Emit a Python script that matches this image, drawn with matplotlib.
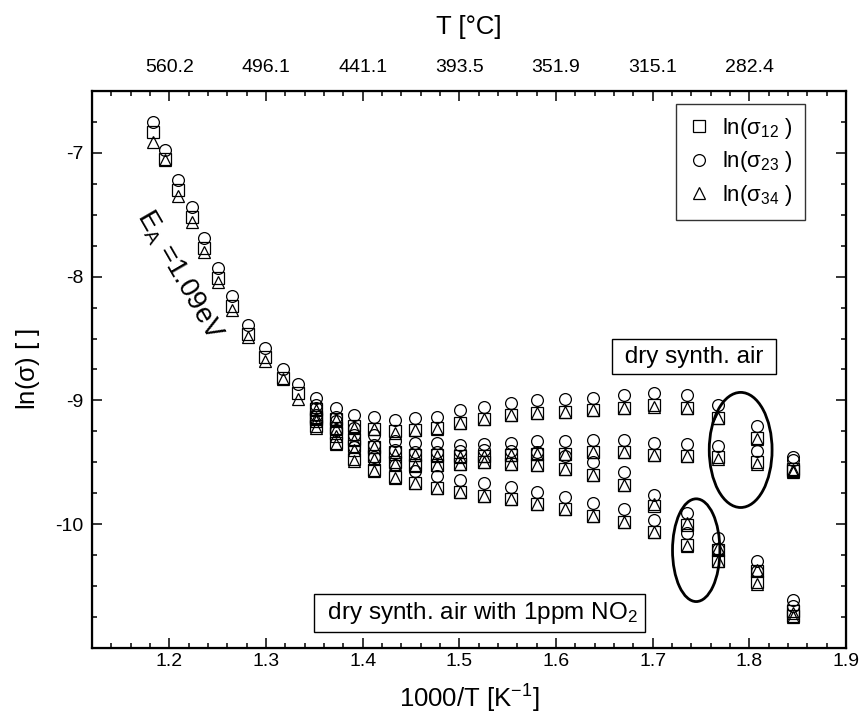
import matplotlib
matplotlib.use('Agg')
import matplotlib.pyplot as plt
from matplotlib.patches import Ellipse
from matplotlib.ticker import MultipleLocator

plt.rcParams['font.family'] = ['Liberation Sans', 'DejaVu Sans']
plt.rcParams['mathtext.fontset'] = 'custom'
plt.rcParams['mathtext.rm'] = 'Liberation Sans'
plt.rcParams['mathtext.it'] = 'Liberation Sans:italic'
plt.rcParams['mathtext.sf'] = 'Liberation Sans'
plt.rcParams['axes.unicode_minus'] = False

# steep part (all three contacts together)
x_steep = [1.183, 1.196, 1.209, 1.223, 1.236, 1.250, 1.265, 1.281, 1.299, 1.318, 1.333]
ci_steep = [-6.75, -6.98, -7.22, -7.44, -7.69, -7.93, -8.16, -8.39, -8.58, -8.75, -8.87]
sq_steep = [-6.83, -7.05, -7.30, -7.52, -7.77, -8.01, -8.24, -8.46, -8.65, -8.82, -8.94]
tr_steep = [-6.91, -7.06, -7.35, -7.56, -7.80, -8.04, -8.27, -8.49, -8.68, -8.83, -8.99]

# low temperature part, four branches
x_band = [1.352, 1.372, 1.391, 1.412, 1.433, 1.454, 1.477, 1.501, 1.526, 1.553,
          1.580, 1.609, 1.638, 1.670, 1.701, 1.735, 1.768, 1.808, 1.845]

ci_A = [-8.98, -9.06, -9.12, -9.13, -9.16, -9.14, -9.13, -9.08, -9.05, -9.02,
        -9.00, -8.99, -8.98, -8.96, -8.94, -8.96, -9.04, -9.21, -9.46]
sq_A = [-9.07, -9.15, -9.21, -9.23, -9.25, -9.24, -9.22, -9.18, -9.15, -9.12,
        -9.10, -9.09, -9.08, -9.06, -9.04, -9.06, -9.14, -9.30, -9.55]
tr_A = [-9.08, -9.16, -9.22, -9.23, -9.26, -9.24, -9.23, -9.18, -9.15, -9.12,
        -9.10, -9.09, -9.08, -9.06, -9.05, -9.06, -9.14, -9.31, -9.56]

ci_B = [-9.04, -9.13, -9.22, -9.28, -9.33, -9.34, -9.34, -9.36, -9.35, -9.34,
        -9.33, -9.33, -9.32, -9.32, -9.34, -9.35, -9.37, -9.41, -9.48]
sq_B = [-9.13, -9.22, -9.31, -9.38, -9.42, -9.44, -9.44, -9.45, -9.45, -9.44,
        -9.43, -9.43, -9.42, -9.42, -9.44, -9.45, -9.46, -9.50, -9.57]
tr_B = [-9.14, -9.23, -9.32, -9.38, -9.43, -9.44, -9.45, -9.46, -9.45, -9.44,
        -9.43, -9.43, -9.42, -9.42, -9.44, -9.45, -9.47, -9.51, -9.58]

ci_C = [-9.06, -9.17, -9.28, -9.36, -9.40, -9.42, -9.42, -9.41, -9.40, -9.41,
        -9.42, -9.45, -9.50, -9.58, -9.76, -9.91, -10.11, -10.30, -10.61]
sq_C = [-9.15, -9.26, -9.37, -9.45, -9.50, -9.52, -9.52, -9.51, -9.50, -9.51,
        -9.52, -9.55, -9.60, -9.68, -9.85, -10.01, -10.21, -10.38, -10.70]
tr_C = [-9.17, -9.29, -9.40, -9.47, -9.51, -9.53, -9.52, -9.51, -9.50, -9.51,
        -9.52, -9.55, -9.60, -9.68, -9.84, -9.99, -10.19, -10.37, -10.72]

ci_D = [-9.12, -9.24, -9.38, -9.46, -9.52, -9.57, -9.61, -9.64, -9.67, -9.70,
        -9.74, -9.78, -9.83, -9.88, -9.97, -10.07, -10.20, -10.38, -10.66]
sq_D = [-9.21, -9.34, -9.47, -9.56, -9.62, -9.67, -9.71, -9.74, -9.77, -9.80,
        -9.84, -9.88, -9.93, -9.98, -10.06, -10.17, -10.30, -10.47, -10.74]
tr_D = [-9.22, -9.35, -9.49, -9.57, -9.63, -9.67, -9.71, -9.74, -9.77, -9.80,
        -9.84, -9.88, -9.93, -9.98, -10.06, -10.18, -10.30, -10.48, -10.75]

top_ticks = [1.2, 1.3, 1.4, 1.5, 1.6, 1.7, 1.8]
top_labels = ['560.2', '496.1', '441.1', '393.5', '351.9', '315.1', '282.4']

x_all = x_steep + x_band * 4
sig12 = sq_steep + sq_A + sq_B + sq_C + sq_D
sig23 = ci_steep + ci_A + ci_B + ci_C + ci_D
sig34 = tr_steep + tr_A + tr_B + tr_C + tr_D

fig = plt.figure(figsize=(8.64, 7.27), dpi=100)
ax = fig.add_axes([0.1065, 0.1087, 0.8727, 0.7661])

mk = dict(ls='none', ms=8.5, mfc='none', mec='k', mew=0.9)
ax.plot(x_all, sig12, marker='s', label=r'ln($\mathregular{\sigma_{12}}$ )', **mk)
ax.plot(x_all, sig23, marker='o', label=r'ln($\mathregular{\sigma_{23}}$ )', **mk)
ax.plot(x_all, sig34, marker='^', label=r'ln($\mathregular{\sigma_{34}}$ )', **mk)

ax.set_xlim(1.12, 1.90)
ax.set_ylim(-11.0, -6.5)
ax.set_xticks([1.2, 1.3, 1.4, 1.5, 1.6, 1.7, 1.8, 1.9])
ax.set_yticks([-10, -9, -8, -7])
ax.xaxis.set_minor_locator(MultipleLocator(0.02))
ax.yaxis.set_minor_locator(MultipleLocator(0.25))
ax.tick_params(which='both', direction='in', right=True, labelsize=14, width=1.1)
ax.tick_params(axis='y', pad=6)
ax.tick_params(which='major', length=7)
ax.tick_params(which='minor', length=3.5)
for s in ax.spines.values():
    s.set_linewidth(1.6)

ax.set_xlabel(r'1000/T [K$^{\mathregular{-1}}$]', fontsize=18.5, labelpad=9)
ax.set_ylabel(r'ln($\mathregular{\sigma}$) [ ]', fontsize=18.5, labelpad=10)

ax2 = ax.twiny()
ax2.set_xlim(ax.get_xlim())
ax2.set_xticks(top_ticks)
ax2.set_xticklabels(top_labels)
ax2.xaxis.set_minor_locator(MultipleLocator(0.02))
ax2.tick_params(which='both', direction='in', labelsize=14, width=1.1, pad=11)
ax2.tick_params(which='major', length=7)
ax2.tick_params(which='minor', length=3.5)
ax2.set_xlabel(r'T [°C]', fontsize=18.5, labelpad=18)

leg = ax.legend(loc='upper right', bbox_to_anchor=(0.946, 0.977), borderaxespad=0,
                fontsize=16, frameon=True, fancybox=False, edgecolor='k',
                handletextpad=0.55, borderpad=0.55, labelspacing=0.38, handlelength=1.0)
leg.get_frame().set_linewidth(1.0)

box = dict(boxstyle='square,pad=0.25', fc='white', ec='k', lw=1.0)
ax.text(1.743, -8.645, ' dry synth. air ', fontsize=17.5, ha='center', va='center', bbox=box)
ax.text(1.521, -10.72, r' dry synth. air with 1ppm NO$_\mathregular{2}$ ', fontsize=17.5,
        ha='center', va='center', bbox=box)
ax.text(1.210, -7.99, r'E$_\mathregular{A}$ =1.09eV', fontsize=20, rotation=-60,
        ha='center', va='center')

ax.add_patch(Ellipse((1.791, -9.40), 0.065, 0.93, fill=False, lw=2.0, ec='k'))
ax.add_patch(Ellipse((1.745, -10.21), 0.049, 0.83, fill=False, lw=2.0, ec='k'))

fig.savefig('out.png', dpi=100)
